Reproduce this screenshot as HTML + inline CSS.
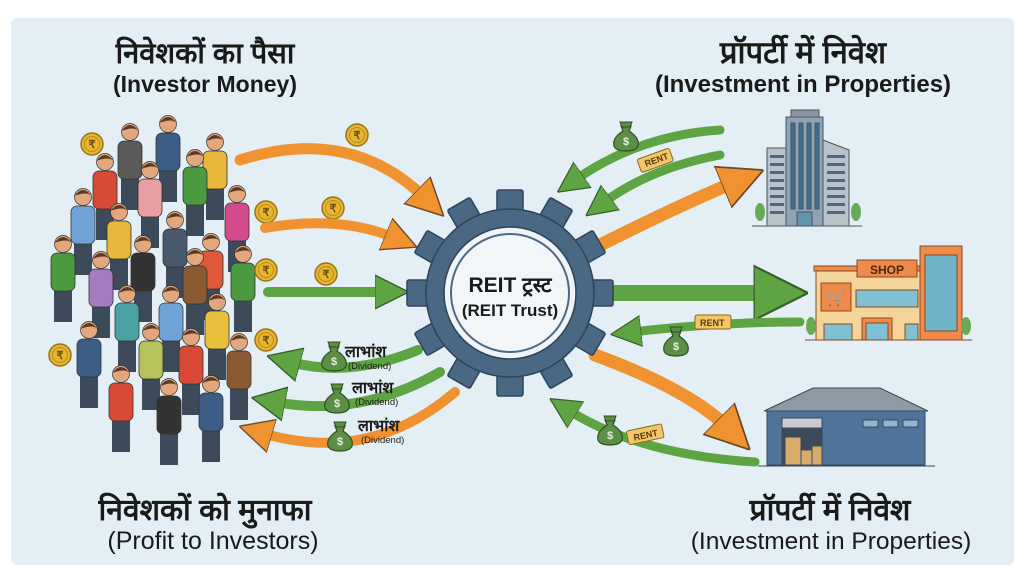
<!DOCTYPE html>
<html><head><meta charset="utf-8"><style>
body{margin:0;background:#fff;width:1024px;height:583px;overflow:hidden;font-family:"Liberation Sans","Noto Sans CJK SC",sans-serif}
svg{display:block}
</style></head><body>
<svg width="1024" height="583" viewBox="0 0 1024 583" xmlns="http://www.w3.org/2000/svg" font-family="Liberation Sans, Noto Sans CJK SC, sans-serif">
<defs>
<marker id="ho" viewBox="0 0 10 10" refX="3" refY="5" markerWidth="3.4" markerHeight="3.8" orient="auto"><path d="M0,0 L10,5 L0,10 Z" fill="#f0922f" stroke="#6b4a2a" stroke-width="0.4"/></marker>
<marker id="hg" viewBox="0 0 10 10" refX="3" refY="5" markerWidth="3.4" markerHeight="3.8" orient="auto"><path d="M0,0 L10,5 L0,10 Z" fill="#5fa443" stroke="#355e2a" stroke-width="0.4"/></marker>
<symbol id="p" viewBox="-15 -12 30 95" overflow="visible">
<rect x="-9" y="44" width="18" height="34" fill="#3c4a5a"/>
<rect x="-12" y="9" width="24" height="38" rx="6" fill="currentColor" stroke="#333" stroke-width="0.8"/>
<circle cx="0" cy="0" r="8.5" fill="#e3a77d" stroke="#333" stroke-width="0.7"/>
<path d="M-8.5,-1 Q0,-13 8.5,-1 Q4,-6 -8.5,-1Z" fill="#5a3a22"/>
</symbol>
<symbol id="coin" viewBox="-12 -12 24 24" overflow="visible"><circle r="11" fill="#e7b530" stroke="#9a7415" stroke-width="1.5"/><circle r="7.5" fill="none" stroke="#b78a1d" stroke-width="1"/><text y="4" text-anchor="middle" font-size="11" font-weight="bold" fill="#6b4e10">₹</text></symbol>
<symbol id="bag" viewBox="-14 -16 28 32" overflow="visible"><path d="M-5,-10 L5,-10 L3,-5 Q14,2 12,10 Q10,15 0,15 Q-10,15 -12,10 Q-14,2 -3,-5Z" fill="#5b8f45" stroke="#2e4f23" stroke-width="1.2"/><path d="M-6,-14 L6,-14 L4,-9 L-4,-9Z" fill="#5b8f45" stroke="#2e4f23" stroke-width="1"/><text y="9" text-anchor="middle" font-size="11" font-weight="bold" fill="#e8f0d8">$</text></symbol>
</defs>
<rect width="1024" height="583" fill="#fff"/>
<rect x="11" y="18" width="1003" height="547" rx="6" fill="#e3eff4"/>

<g font-weight="bold" fill="#1a1a1a" text-anchor="middle">
<text x="205" y="63" font-size="29">निवेशकों का पैसा</text>
<text x="205" y="92" font-size="23">(Investor Money)</text>
<text x="803" y="63" font-size="31">प्रॉपर्टी में निवेश</text>
<text x="803" y="92" font-size="24">(Investment in Properties)</text>
<text x="205" y="520" font-size="30">निवेशकों को मुनाफा</text>
<text x="830" y="520" font-size="30">प्रॉपर्टी में निवेश</text>
</g>
<g fill="#1a1a1a" text-anchor="middle">
<text x="213" y="549" font-size="25">(Profit to Investors)</text>
<text x="831" y="549" font-size="24.5">(Investment in Properties)</text>
</g>

<g>
<use href="#p" x="115" y="120" width="30" height="95" color="#5b5b5b"/>
<use href="#p" x="153" y="112" width="30" height="95" color="#3b5d86"/>
<use href="#p" x="200" y="130" width="30" height="95" color="#e8b73c"/>
<use href="#p" x="90" y="150" width="30" height="95" color="#d94a36"/>
<use href="#p" x="135" y="158" width="30" height="95" color="#e89ea3"/>
<use href="#p" x="180" y="146" width="30" height="95" color="#4c9a3f"/>
<use href="#p" x="222" y="182" width="30" height="95" color="#d34b8b"/>
<use href="#p" x="68" y="185" width="30" height="95" color="#6fa3d6"/>
<use href="#p" x="104" y="200" width="30" height="95" color="#e8b73c"/>
<use href="#p" x="160" y="208" width="30" height="95" color="#4a5a6c"/>
<use href="#p" x="196" y="230" width="30" height="95" color="#e05a3a"/>
<use href="#p" x="48" y="232" width="30" height="95" color="#4c9a3f"/>
<use href="#p" x="86" y="248" width="30" height="95" color="#a27bc0"/>
<use href="#p" x="128" y="232" width="30" height="95" color="#333"/>
<use href="#p" x="180" y="245" width="30" height="95" color="#8a5a32"/>
<use href="#p" x="228" y="242" width="30" height="95" color="#4c9a3f"/>
<use href="#p" x="112" y="282" width="30" height="95" color="#4aa3a3"/>
<use href="#p" x="156" y="282" width="30" height="95" color="#6fa3d6"/>
<use href="#p" x="202" y="290" width="30" height="95" color="#e8c03c"/>
<use href="#p" x="74" y="318" width="30" height="95" color="#3b5d86"/>
<use href="#p" x="136" y="320" width="30" height="95" color="#b8c25a"/>
<use href="#p" x="176" y="325" width="30" height="95" color="#d94a36"/>
<use href="#p" x="224" y="330" width="30" height="95" color="#8a5a32"/>
<use href="#p" x="106" y="362" width="30" height="95" color="#d94a36"/>
<use href="#p" x="154" y="375" width="30" height="95" color="#333"/>
<use href="#p" x="196" y="372" width="30" height="95" color="#3b5d86"/>
</g>
<use href="#coin" x="80" y="132" width="24" height="24"/>
<use href="#coin" x="254" y="200" width="24" height="24"/>
<use href="#coin" x="254" y="258" width="24" height="24"/>
<use href="#coin" x="48" y="343" width="24" height="24"/>
<use href="#coin" x="254" y="328" width="24" height="24"/>
<use href="#coin" x="345" y="123" width="24" height="24"/>
<use href="#coin" x="321" y="196" width="24" height="24"/>
<use href="#coin" x="314" y="262" width="24" height="24"/>

<g fill="none" stroke-linecap="round">
<path d="M240,160 Q350,125 425,198" stroke="#f0922f" stroke-width="11" marker-end="url(#ho)"/>
<path d="M265,228 Q340,215 395,238" stroke="#f0922f" stroke-width="10" marker-end="url(#ho)"/>
<path d="M268,292 L385,292" stroke="#5fa443" stroke-width="10" marker-end="url(#hg)"/>
<path d="M418,350 Q350,378 290,362" stroke="#5fa443" stroke-width="10" marker-end="url(#hg)"/>
<path d="M440,372 Q360,418 275,402" stroke="#5fa443" stroke-width="10" marker-end="url(#hg)"/>
<path d="M455,392 Q370,465 262,433" stroke="#f0922f" stroke-width="10" marker-end="url(#ho)"/>
<path d="M600,245 Q680,205 735,182" stroke="#f0922f" stroke-width="13" marker-end="url(#ho)"/>
<path d="M610,293 L770,293" stroke="#5fa443" stroke-width="16" marker-end="url(#hg)"/>
<path d="M595,355 Q690,390 728,428" stroke="#f0922f" stroke-width="13" marker-end="url(#ho)"/>
<path d="M720,130 Q640,135 575,180" stroke="#5fa443" stroke-width="9" marker-end="url(#hg)"/>
<path d="M720,155 Q650,168 603,203" stroke="#5fa443" stroke-width="9" marker-end="url(#hg)"/>
<path d="M800,322 Q720,322 632,332" stroke="#5fa443" stroke-width="9" marker-end="url(#hg)"/>
<path d="M755,462 Q640,455 568,410" stroke="#5fa443" stroke-width="9" marker-end="url(#hg)"/>
</g>
<use href="#bag" x="612" y="120" width="28" height="32"/>
<use href="#bag" x="662" y="325" width="28" height="32"/>
<use href="#bag" x="596" y="414" width="28" height="32"/>
<use href="#bag" x="320" y="340" width="28" height="32"/>
<use href="#bag" x="323" y="382" width="28" height="32"/>
<use href="#bag" x="326" y="420" width="28" height="32"/>
<g font-size="9" font-weight="bold" fill="#5a3a10">
<g transform="translate(640,168) rotate(-20)"><rect x="0" y="-9" width="34" height="14" rx="2" fill="#f3c766" stroke="#8a6a20"/><text x="6" y="1">RENT</text></g>
<rect x="695" y="315" width="36" height="14" rx="2" fill="#f3c766" stroke="#8a6a20"/><text x="700" y="326">RENT</text>
<g transform="translate(628,440) rotate(-12)"><rect x="0" y="-9" width="36" height="14" rx="2" fill="#f3c766" stroke="#8a6a20"/><text x="6" y="2">RENT</text></g>
</g>
<g fill="#1a1a1a" font-weight="bold">
<text x="345" y="357" font-size="16">लाभांश</text><text x="348" y="369" font-size="9.5" font-weight="normal">(Dividend)</text>
<text x="352" y="393" font-size="16">लाभांश</text><text x="355" y="405" font-size="9.5" font-weight="normal">(Dividend)</text>
<text x="358" y="431" font-size="16">लाभांश</text><text x="361" y="443" font-size="9.5" font-weight="normal">(Dividend)</text>
</g>

<g transform="translate(510,293)" fill="#4a6783" stroke="#2f4458" stroke-width="1.5">
<g id="t"><rect x="-13" y="-103" width="26" height="24" rx="2"/></g>
<use href="#t" transform="rotate(30)"/><use href="#t" transform="rotate(60)"/><use href="#t" transform="rotate(90)"/>
<use href="#t" transform="rotate(120)"/><use href="#t" transform="rotate(150)"/><use href="#t" transform="rotate(180)"/>
<use href="#t" transform="rotate(210)"/><use href="#t" transform="rotate(240)"/><use href="#t" transform="rotate(270)"/>
<use href="#t" transform="rotate(300)"/><use href="#t" transform="rotate(330)"/>
<circle r="84"/>
<circle r="66" fill="#eef4f7" stroke="#2f4458" stroke-width="1.5"/>
<circle r="59" fill="#f3f6f8" stroke="#4c6a85" stroke-width="2"/>
</g>
<text x="510" y="292" font-size="21" font-weight="bold" text-anchor="middle" fill="#1a1a1a">REIT ट्रस्ट</text>
<text x="510" y="316" font-size="17" font-weight="bold" text-anchor="middle" fill="#1a1a1a">(REIT Trust)</text>

<g stroke="#4a5560" stroke-width="1">
<rect x="791" y="110" width="28" height="8" fill="#8a97a3"/>
<rect x="767" y="148" width="20" height="78" fill="#b9c2ca"/>
<path d="M823,140 L849,150 L849,226 L823,226Z" fill="#b9c2ca"/>
<rect x="786" y="117" width="37" height="109" fill="#8fa3b4"/>
<rect x="791" y="123" width="4" height="86" fill="#3d6e8e"/><rect x="799" y="123" width="4" height="86" fill="#3d6e8e"/><rect x="807" y="123" width="4" height="86" fill="#3d6e8e"/><rect x="815" y="123" width="4" height="86" fill="#3d6e8e"/>
<rect x="797" y="212" width="15" height="14" fill="#5f95ad"/>
<line x1="752" y1="226" x2="862" y2="226"/>
</g>
<g fill="#4c6a85"><rect x="770" y="155" width="14" height="3"/><rect x="770" y="163" width="14" height="3"/><rect x="770" y="171" width="14" height="3"/><rect x="770" y="179" width="14" height="3"/><rect x="770" y="187" width="14" height="3"/><rect x="770" y="195" width="14" height="3"/><rect x="770" y="203" width="14" height="3"/><rect x="770" y="211" width="14" height="3"/>
<rect x="827" y="155" width="18" height="3"/><rect x="827" y="163" width="18" height="3"/><rect x="827" y="171" width="18" height="3"/><rect x="827" y="179" width="18" height="3"/><rect x="827" y="187" width="18" height="3"/><rect x="827" y="195" width="18" height="3"/><rect x="827" y="203" width="18" height="3"/><rect x="827" y="211" width="18" height="3"/></g>
<ellipse cx="760" cy="212" rx="5" ry="9" fill="#6aaa55"/><ellipse cx="856" cy="212" rx="5" ry="9" fill="#6aaa55"/>

<g stroke="#8a4a20" stroke-width="1">
<rect x="816" y="268" width="106" height="72" fill="#f5d49a"/>
<rect x="814" y="266" width="110" height="5" fill="#ef8a4a"/>
<rect x="920" y="246" width="42" height="94" fill="#ef8a4a"/>
<rect x="925" y="255" width="32" height="76" fill="#6fb3c8"/>
<rect x="857" y="260" width="60" height="17" fill="#ef8a4a"/>
<rect x="821" y="283" width="30" height="28" fill="#ef8a4a"/>
<rect x="856" y="290" width="62" height="17" fill="#7fc0d3"/>
<rect x="824" y="324" width="28" height="16" fill="#7fc0d3"/>
<rect x="862" y="318" width="30" height="22" fill="#ef8a4a"/>
<rect x="866" y="323" width="22" height="17" fill="#7fc0d3"/>
<rect x="905" y="324" width="13" height="16" fill="#7fc0d3"/>
<line x1="805" y1="340" x2="972" y2="340"/>
</g>
<text x="887" y="274" font-size="12" font-weight="bold" text-anchor="middle" fill="#4a2a10">SHOP</text>
<text x="836" y="303" font-size="15" text-anchor="middle" fill="#6a2a10">🛒</text>
<ellipse cx="811" cy="326" rx="5" ry="9" fill="#6aaa55"/><ellipse cx="966" cy="326" rx="5" ry="9" fill="#6aaa55"/>

<g stroke="#3a4a5a" stroke-width="1">
<path d="M764,411 L813,388 L880,388 L928,411Z" fill="#8d99a3"/>
<rect x="767" y="411" width="158" height="54" fill="#4f739a"/>
<rect x="782" y="418" width="40" height="47" fill="#3c4a5a"/>
<rect x="782" y="418" width="40" height="10" fill="#c9cdd1"/>
<rect x="785" y="437" width="16" height="28" fill="#d7ac6a"/><rect x="801" y="450" width="12" height="15" fill="#d7ac6a"/><rect x="812" y="446" width="10" height="19" fill="#d7ac6a"/>
<rect x="863" y="420" width="15" height="7" fill="#8fb6d2"/><rect x="883" y="420" width="15" height="7" fill="#8fb6d2"/><rect x="903" y="420" width="15" height="7" fill="#8fb6d2"/>
<line x1="758" y1="466" x2="935" y2="466"/>
</g>
</svg>
</body></html>
